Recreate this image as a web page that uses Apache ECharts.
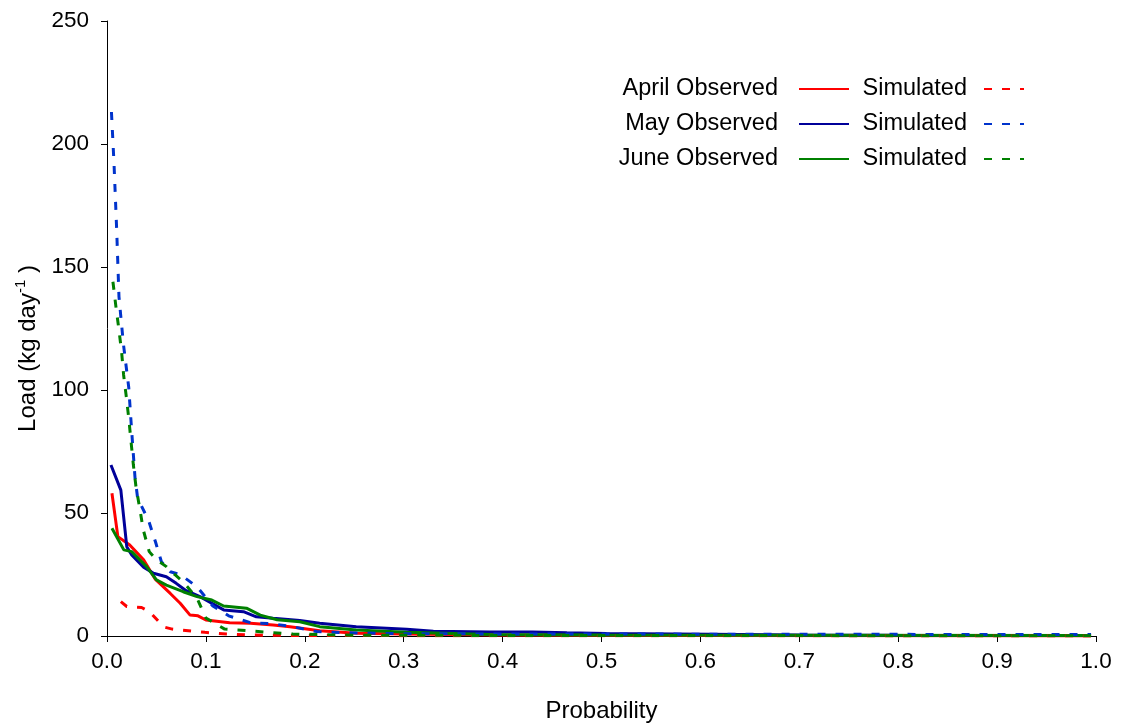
<!DOCTYPE html>
<html>
<head>
<meta charset="utf-8">
<script src="https://cdn.jsdelivr.net/npm/echarts@6/dist/echarts.min.js"></script>
<style>
html,body{margin:0;padding:0;background:#fff;}
#chart{width:1122px;height:726px;}
</style>
</head>
<body>
<div id="chart"></div>
<script>
// ---- data: [probability, load (kg/day)] ----
const aprilObserved = [[0.005,58],[0.011,40.4],[0.023,37],[0.037,31],[0.049,23],[0.064,17.3],[0.074,13.3],[0.084,8.5],[0.092,8.2],[0.1,6.5],[0.124,5.4],[0.145,5.2],[0.168,4.5],[0.185,3.8],[0.215,2.1],[0.252,1.1],[0.3,0.8],[0.4,0.4],[0.5,0.3],[0.6,0.2],[0.8,0.1],[0.995,0.05]];
const aprilSimulated = [[0.014,14],[0.02,12],[0.035,11.6],[0.043,9.9],[0.052,6],[0.058,3.6],[0.066,2.8],[0.075,2.4],[0.099,1.5],[0.121,0.8],[0.145,0.4],[0.2,0.2],[0.4,0.1],[0.995,0.05]];
const mayObserved = [[0.004,69.5],[0.014,59.3],[0.02,36.3],[0.025,32.9],[0.037,28],[0.047,25.5],[0.06,24.1],[0.07,21.4],[0.079,18.7],[0.094,16],[0.118,10.6],[0.138,9.9],[0.151,7.8],[0.168,7.2],[0.195,6.3],[0.215,5.2],[0.252,3.8],[0.303,2.7],[0.33,1.9],[0.387,1.6],[0.43,1.6],[0.465,1.3],[0.505,1.0],[0.61,0.7],[0.7,0.4],[0.8,0.3],[0.995,0.2]];
const maySimulated = [[0.0045,213],[0.0071,192],[0.0098,165],[0.0121,138],[0.0165,119],[0.022,101],[0.025,83],[0.0283,64.5],[0.031,56],[0.042,47],[0.049,38.3],[0.055,30.2],[0.064,26.1],[0.074,25],[0.091,20],[0.107,12.2],[0.123,8.2],[0.145,5.4],[0.167,5],[0.19,3.6],[0.212,1.8],[0.236,1.4],[0.3,0.9],[0.5,0.8],[0.7,0.7],[0.995,0.6]];
const juneObserved = [[0.005,43.8],[0.017,35],[0.025,34.3],[0.04,28.2],[0.05,22.8],[0.06,20.7],[0.077,18],[0.091,16],[0.106,14.6],[0.118,12.2],[0.141,11.3],[0.155,8.5],[0.172,6.6],[0.195,5.8],[0.215,3.8],[0.252,2.4],[0.303,1.5],[0.387,0.6],[0.5,0.4],[0.7,0.3],[0.995,0.2]];
const juneSimulated = [[0.006,144],[0.0091,133.6],[0.0121,124.4],[0.0148,115.3],[0.0168,106.1],[0.0195,97.3],[0.0222,87.8],[0.0243,79],[0.0266,69.8],[0.0293,60.7],[0.0334,51.2],[0.0367,43.1],[0.0427,34.3],[0.05,31],[0.06,28.2],[0.069,24.8],[0.077,22],[0.091,15.4],[0.1,7.3],[0.119,2.8],[0.141,2.2],[0.165,1.4],[0.188,0.8],[0.25,0.3],[0.5,0.2],[0.995,0.1]];
const xTicks = {min: 0, max: 1, interval: 0.1};
const yTicks = {min: 0, max: 250, interval: 50};

const FONT = 'Liberation Sans, Arial, sans-serif';
const RED = '#ff0000', NAVY = '#000099', BLUE = '#0033cc', GREEN = '#008000';
const DASH = [8, 10];

function line(name, data, color, dashed) {
  return {
    name: name, type: 'line', data: data, symbol: 'none', showSymbol: false,
    lineStyle: {color: color, width: 3, type: dashed ? DASH : 'solid'},
    itemStyle: {color: color},
    emphasis: {disabled: true}
  };
}

const legendText = {fontFamily: FONT, fontSize: 23.5, color: '#000', lineHeight: 24};

const chart = echarts.init(document.getElementById('chart'));
chart.setOption({
  animation: false,
  backgroundColor: '#fff',
  grid: {left: 107, right: 26, top: 21, bottom: 90, containLabel: false, outerBoundsMode: 'none'},
  legend: [
    {
      data: ['April Observed', 'May Observed', 'June Observed'],
      orient: 'vertical', align: 'right', right: 272, top: 77, padding: 0,
      itemWidth: 50, itemHeight: 14, itemGap: 11,
      itemStyle: {opacity: 0},
      textStyle: Object.assign({padding: [0, 16, 0, 0]}, legendText),
      selectedMode: false
    },
    {
      data: ['April Simulated', 'May Simulated', 'June Simulated'],
      orient: 'vertical', align: 'right', right: 97, top: 77, padding: 0,
      itemWidth: 40, itemHeight: 14, itemGap: 11,
      itemStyle: {opacity: 0},
      formatter: function () { return 'Simulated'; },
      textStyle: Object.assign({padding: [0, 12, 0, 0]}, legendText),
      selectedMode: false
    }
  ],
  xAxis: {
    type: 'value', min: xTicks.min, max: xTicks.max, interval: xTicks.interval,
    name: 'Probability', nameLocation: 'middle', nameGap: 63,
    nameTextStyle: {fontFamily: FONT, fontSize: 24, color: '#000'},
    axisLine: {show: true, onZero: false, lineStyle: {color: '#000', width: 1}},
    axisTick: {show: true, inside: false, length: 6, lineStyle: {color: '#000'}},
    axisLabel: {fontFamily: FONT, fontSize: 22.5, color: '#000', margin: 14,
      formatter: function (v) { return v.toFixed(1); }},
    splitLine: {show: false}
  },
  yAxis: {
    type: 'value', min: yTicks.min, max: yTicks.max, interval: yTicks.interval,
    name: '{a|Load (kg day}{s|-1}{a| )}', nameLocation: 'middle', nameGap: 60, nameRotate: 90,
    nameTextStyle: {
      fontFamily: FONT, color: '#000', padding: [0, 40, 0, 0],
      rich: {
        a: {fontFamily: FONT, fontSize: 24, color: '#000'},
        s: {fontFamily: FONT, fontSize: 15, color: '#000', padding: [0, 0, 15, 0]}
      }
    },
    axisLine: {show: true, onZero: false, lineStyle: {color: '#000', width: 1}},
    axisTick: {show: true, inside: false, length: 6, lineStyle: {color: '#000'}},
    axisLabel: {fontFamily: FONT, fontSize: 22.5, color: '#000', margin: 18},
    splitLine: {show: false}
  },
  series: [
    line('April Observed', aprilObserved, RED, false),
    line('May Observed', mayObserved, NAVY, false),
    line('June Observed', juneObserved, GREEN, false),
    line('April Simulated', aprilSimulated, RED, true),
    line('May Simulated', maySimulated, BLUE, true),
    line('June Simulated', juneSimulated, GREEN, true)
  ]
});
</script>
</body>
</html>
